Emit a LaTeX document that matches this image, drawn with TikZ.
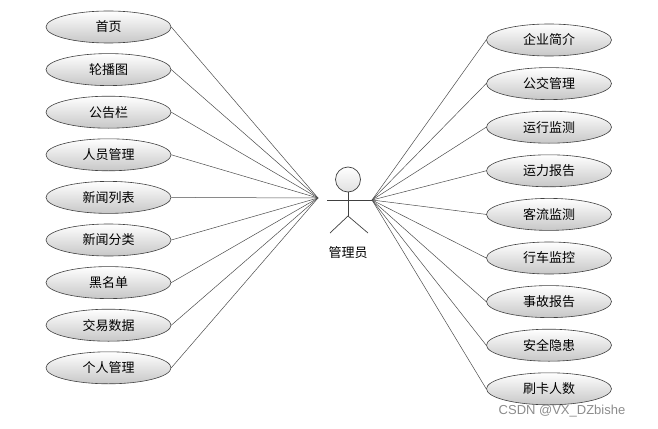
\documentclass[tikz,border=0pt]{standalone}
\usepackage{fontspec}
\setmainfont{Noto Sans CJK SC}
\newfontfamily\wmfont{Liberation Sans}
\usetikzlibrary{shapes.geometric}
\begin{document}
\begin{tikzpicture}[x=1pt,y=-1pt,
  usecase/.style={ellipse,draw=black!75,line width=0.6pt,top color=white,bottom color=black!22,
    minimum width=125pt,minimum height=32pt,inner sep=0pt,font=\fontsize{13}{13}\selectfont},
  link/.style={draw=black!70,line width=0.5pt},
  actorline/.style={draw=black!75,line width=0.7pt}]
\useasboundingbox (0,0) rectangle (658,428);
% left use cases
\foreach \t [count=\i from 0] in {首页,轮播图,公告栏,人员管理,新闻列表,新闻分类,黑名单,交易数据,个人管理}{
  \node[usecase] (L\i) at (108.5,{27+42.6*\i}) {\t};
}
\foreach \t [count=\i from 0] in {企业简介,公交管理,运行监测,运力报告,客流监测,行车监控,事故报告,安全隐患,刷卡人数}{
  \node[usecase] (R\i) at (549,{40+43.6*\i}) {\t};
}
% actor
\node[circle,draw=black!75,line width=0.7pt,top color=white,bottom color=black!12,minimum size=25pt,inner sep=0pt] (head) at (348,179.5) {};
\coordinate (armL) at (327,200);
\coordinate (armR) at (372,200);
\coordinate (hip) at (348,216);
\coordinate (footL) at (330,233);
\coordinate (footR) at (368,233);
\coordinate (jl) at (318,198);
\coordinate (jr) at (372,200);
\draw[actorline] (armL) -- (armR);
\draw[actorline] (head.south) -- (hip);
\draw[actorline] (footL) -- (hip) -- (footR);
\node[font=\fontsize{13}{13}\selectfont] (lbl) at (348,253) {管理员};
\foreach \i in {0,...,8}{
  \draw[link] (L\i.east) -- (jl);
  \draw[link] (R\i.west) -- (jr);
}
\node[font=\wmfont\fontsize{13}{13}\selectfont,text=black!45,anchor=center] (wm) at (562,411) {CSDN @VX\_DZbishe};
\end{tikzpicture}
\end{document}
